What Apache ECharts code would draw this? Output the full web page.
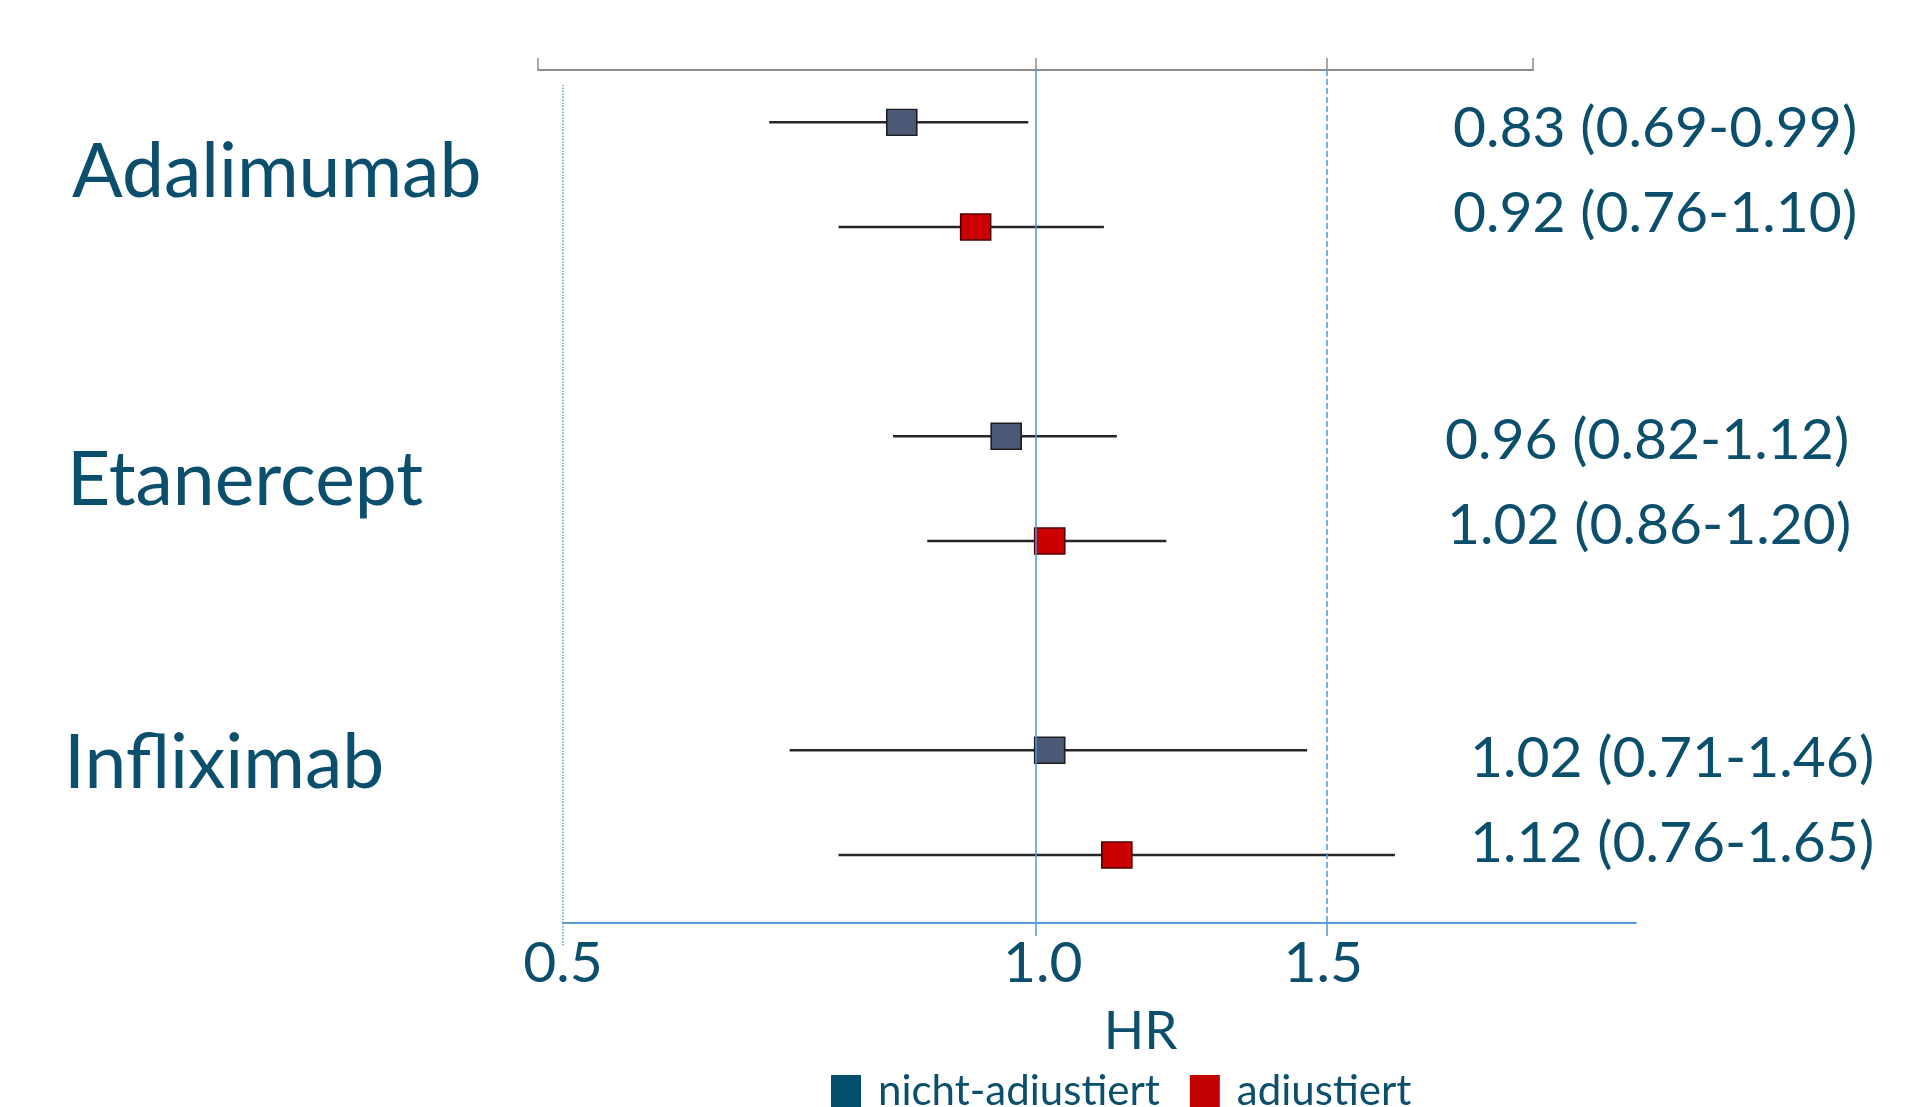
<!DOCTYPE html>
<html>
<head>
<meta charset="utf-8">
<title>HR Forest plot</title>
<script src="https://cdn.jsdelivr.net/npm/echarts@6/dist/echarts.min.js"></script>
<style>
  html, body { margin: 0; padding: 0; background: #fff; }
  #chart { width: 1924px; height: 1107px; }
</style>
</head>
<body>
<div id="chart"></div>
<script>
// Daten
const drugs = ['Adalimumab', 'Etanercept', 'Infliximab']
// nicht-adjustiert
const hrRaw = [0.83, 0.96, 1.02]
const loRaw = [0.69, 0.82, 0.71]
const hiRaw = [0.99, 1.12, 1.46]
// adjustiert
const hrAdj = [0.92, 1.02, 1.12]
const loAdj = [0.76, 0.86, 0.76]
const hiAdj = [1.10, 1.20, 1.65]
// Achsen
const topTicks = [0.5, 1.0, 1.5, 2.0]
const bottomTicks = [0.5, 1.0, 1.5]

// Layout (Zeilenplätze, Textpositionen)
const groupSlot = [0, 3, 6]
const groupLabelPos = [[72, 170], [67, 478], [64, 761]]
const valueLabelPos = [[1453, 126], [1453, 211], [1445, 438], [1447, 523], [1470, 756], [1470, 841]]

const textColor = '#0b4f6c'
const fmt = (h, l, u) => h.toFixed(2) + ' (' + l.toFixed(2) + '-' + u.toFixed(2) + ')'

const ciData = []
drugs.forEach((d, i) => {
  ciData.push([loRaw[i], hiRaw[i], groupSlot[i]])
  ciData.push([loAdj[i], hiAdj[i], groupSlot[i] + 1])
})

const valueTexts = []
drugs.forEach((d, i) => {
  valueTexts.push(fmt(hrRaw[i], loRaw[i], hiRaw[i]))
  valueTexts.push(fmt(hrAdj[i], loAdj[i], hiAdj[i]))
})

const graphics = []
drugs.forEach((d, i) => {
  graphics.push({
    type: 'text', left: groupLabelPos[i][0], top: groupLabelPos[i][1] - 35,
    style: { text: d, font: '75px Lato', fill: textColor }
  })
})
valueTexts.forEach((t, i) => {
  graphics.push({
    type: 'text', left: valueLabelPos[i][0], top: valueLabelPos[i][1] - 26,
    style: { text: t, font: '57px Lato', fill: textColor }
  })
})

const myChart = echarts.init(document.getElementById('chart'))
myChart.setOption({
  animation: false,
  backgroundColor: '#fff',
  textStyle: { fontFamily: 'Lato' },
  grid: [
    { left: 538, top: 70, width: 995, height: 853 },
    { left: 563, top: 85, width: 1073, height: 838 }
  ],
  xAxis: [
    {
      // obere Achse (Datenachse)
      type: 'log', gridIndex: 0, position: 'top', min: 0.5, max: 2,
      axisLine: { show: true, onZero: false, lineStyle: { color: '#8c8c8c', width: 2 } },
      axisTick: { show: true, customValues: topTicks, length: 12, lineStyle: { color: '#8c8c8c', width: 1.5 } },
      axisLabel: { show: false },
      splitLine: { show: false }
    },
    {
      // untere Achse mit Beschriftung
      type: 'log', gridIndex: 1, position: 'bottom', min: 0.5, max: 2.357,
      axisLine: { show: true, onZero: false, lineStyle: { color: '#5b9bd5', width: 2 } },
      axisTick: { show: true, customValues: [0.5], length: 24, lineStyle: { color: '#5b9bd5', width: 1.5, type: 'dotted' } },
      axisLabel: {
        show: true, customValues: bottomTicks, margin: 12,
        formatter: v => Number(v).toFixed(1),
        fontSize: 57, color: textColor, fontFamily: 'Lato'
      },
      splitLine: { show: false },
      name: 'HR', nameLocation: 'middle', nameGap: 82,
      nameTextStyle: { fontSize: 53, color: textColor, fontFamily: 'Lato', padding: [0, 0, 0, 82] }
    },
    {
      // Hilfsachse: Strichverlängerung unter 1.0 / 1.5
      type: 'log', gridIndex: 0, position: 'bottom', min: 0.5, max: 2,
      axisLine: { show: false, onZero: false },
      axisTick: { show: true, customValues: [1.0, 1.5], length: 13, lineStyle: { color: '#4a9ad8', width: 1.5 } },
      axisLabel: { show: false },
      splitLine: { show: false }
    }
  ],
  yAxis: [
    { type: 'value', gridIndex: 0, inverse: true, min: -0.5, max: 7.65, show: false },
    { type: 'value', gridIndex: 1, min: 0, max: 1, show: false }
  ],
  legend: {
    left: 831, top: 1070, padding: 0, itemWidth: 30, itemHeight: 32, itemGap: 30, icon: 'rect',
    textStyle: { fontSize: 42, color: textColor, fontFamily: 'Lato', padding: [0, 0, 0, 12] },
    data: [
      { name: 'nicht-adiustiert', itemStyle: { color: '#02506e', borderWidth: 0 } },
      { name: 'adiustiert', itemStyle: { color: '#c00000', borderWidth: 0 } }
    ]
  },
  graphic: graphics,
  series: [
    {
      name: 'ref', type: 'line', xAxisIndex: 0, yAxisIndex: 0, data: [], silent: true,
      markLine: {
        symbol: 'none', silent: true, label: { show: false },
        lineStyle: { color: '#4a9ad8', width: 1.5 },
        data: [
          { xAxis: 1.0, lineStyle: { type: 'solid' } },
          { xAxis: 1.5, lineStyle: { type: 'dashed' } }
        ]
      }
    },
    {
      name: 'ref05', type: 'line', xAxisIndex: 1, yAxisIndex: 1, data: [], silent: true,
      markLine: {
        symbol: 'none', silent: true, label: { show: false },
        lineStyle: { color: '#5b9bd5', width: 1.5, type: 'dotted' },
        data: [{ xAxis: 0.5 }]
      }
    },
    {
      name: 'ci', type: 'custom', xAxisIndex: 0, yAxisIndex: 0, z: 2,
      encode: { x: [0, 1], y: 2 },
      data: ciData,
      renderItem: (params, api) => {
        const a = api.coord([api.value(0), api.value(2)])
        const b = api.coord([api.value(1), api.value(2)])
        return {
          type: 'line',
          shape: { x1: a[0], y1: a[1], x2: b[0], y2: b[1] },
          style: { stroke: '#262626', lineWidth: 2.5 }
        }
      }
    },
    {
      name: 'nicht-adiustiert', type: 'scatter', xAxisIndex: 0, yAxisIndex: 0, z: 3,
      symbol: 'rect', symbolSize: [30, 26],
      itemStyle: { color: '#4b5876', borderColor: '#1e1e1e', borderWidth: 1.5, opacity: 1 },
      data: hrRaw.map((v, i) => [v, groupSlot[i]])
    },
    {
      name: 'adiustiert', type: 'scatter', xAxisIndex: 0, yAxisIndex: 0, z: 3,
      symbol: 'rect', symbolSize: [30, 26],
      itemStyle: { color: '#cc0000', borderColor: '#4a0000', borderWidth: 1.5, opacity: 1 },
      data: hrAdj.map((v, i) => [v, groupSlot[i] + 1])
    }
  ]
})
</script>
</body>
</html>
